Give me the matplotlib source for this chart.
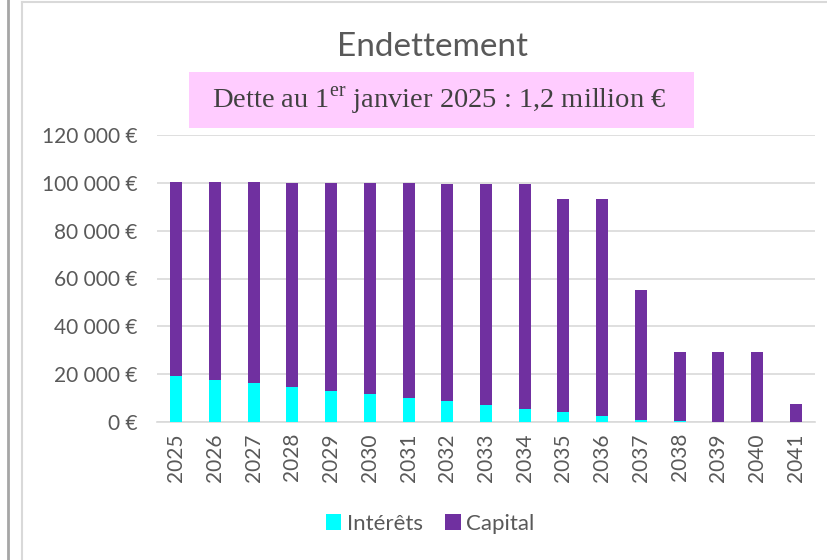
import matplotlib
matplotlib.use("Agg")
import matplotlib.pyplot as plt
from matplotlib.lines import Line2D
from matplotlib.patches import Rectangle

years = [str(y) for y in range(2025, 2042)]
interets = [19100, 17600, 16100, 14600, 13100, 11700, 10200, 8600, 7200,
            5600, 4000, 2500, 1000, 500, 0, 0, 0]
capital = [81300, 82700, 84100, 85500, 86900, 88200, 89600, 91100, 92400,
           93900, 89300, 90800, 54200, 28800, 29300, 29300, 7500]
yticks = [0, 20000, 40000, 60000, 80000, 100000, 120000]

plt.rcParams['mathtext.fontset'] = 'custom'
plt.rcParams['mathtext.rm'] = 'Liberation Serif'
plt.rcParams['font.family'] = ['Lato', 'DejaVu Sans']

W, H = 827, 560
fig = plt.figure(figsize=(W / 100, H / 100), dpi=100)

def fx(px):
    return px / W

def fy(py):
    return 1 - py / H

ax = fig.add_axes([fx(157), fy(422), fx(815) - fx(157), fy(135) - fy(422)])

cyan = '#00FFFF'
purple = '#7030A0'
x = range(len(years))
ax.bar(x, interets, width=0.31, color=cyan, label='Intérêts', zorder=3)
ax.bar(x, capital, width=0.31, bottom=interets, color=purple, label='Capital', zorder=3)

ax.set_xlim(-0.5, len(years) - 0.5)
ax.set_ylim(0, 120000)
ax.set_yticks(yticks)
ax.set_yticklabels([(f"{v:,}".replace(",", " ") + " €") for v in yticks])
ax.set_xticks(list(x))
ax.set_xticklabels(years, rotation=90)
ax.tick_params(axis='both', length=0, colors='#595959', labelsize=15)
ax.tick_params(axis='y', pad=14)
ax.tick_params(axis='x', pad=8)
ax.grid(axis='y', color='#d9d9d9', linewidth=1.2, zorder=0)
for s in ['top', 'right', 'left']:
    ax.spines[s].set_visible(False)
ax.spines['bottom'].set_color('#d9d9d9')
ax.spines['bottom'].set_linewidth(1.2)

fig.text(fx(432), fy(47), 'Endettement', ha='center', va='center',
         fontsize=24, color='#595959')

fig.patches.append(Rectangle((fx(189), fy(128)), fx(694) - fx(189), fy(72) - fy(128),
                             transform=fig.transFigure, facecolor='#FFCCFF',
                             edgecolor='none', zorder=1))
fig.text(fx(439), fy(101), r'Dette au 1$^{\mathrm{er}}$ janvier 2025 : 1,2 million €',
         ha='center', va='center', fontsize=20.5, color='#404040',
         family='Liberation Serif', zorder=2)

fig.legend(loc='center', bbox_to_anchor=(fx(430), fy(524)), ncol=2, frameon=False,
           handlelength=0.7, handleheight=0.7, handletextpad=0.25, columnspacing=1.0,
           fontsize=16, labelcolor='#595959')

fig.add_artist(Line2D([fx(8), fx(8)], [0, 1], transform=fig.transFigure,
                      color='#a6a6a6', linewidth=2))
fig.add_artist(Line2D([fx(21.5), fx(21.5)], [0, fy(2)], transform=fig.transFigure,
                      color='#d9d9d9', linewidth=1.5))
fig.add_artist(Line2D([fx(21.5), 1], [fy(2), fy(2)], transform=fig.transFigure,
                      color='#d9d9d9', linewidth=1.5))

fig.savefig('out.png', dpi=100)
